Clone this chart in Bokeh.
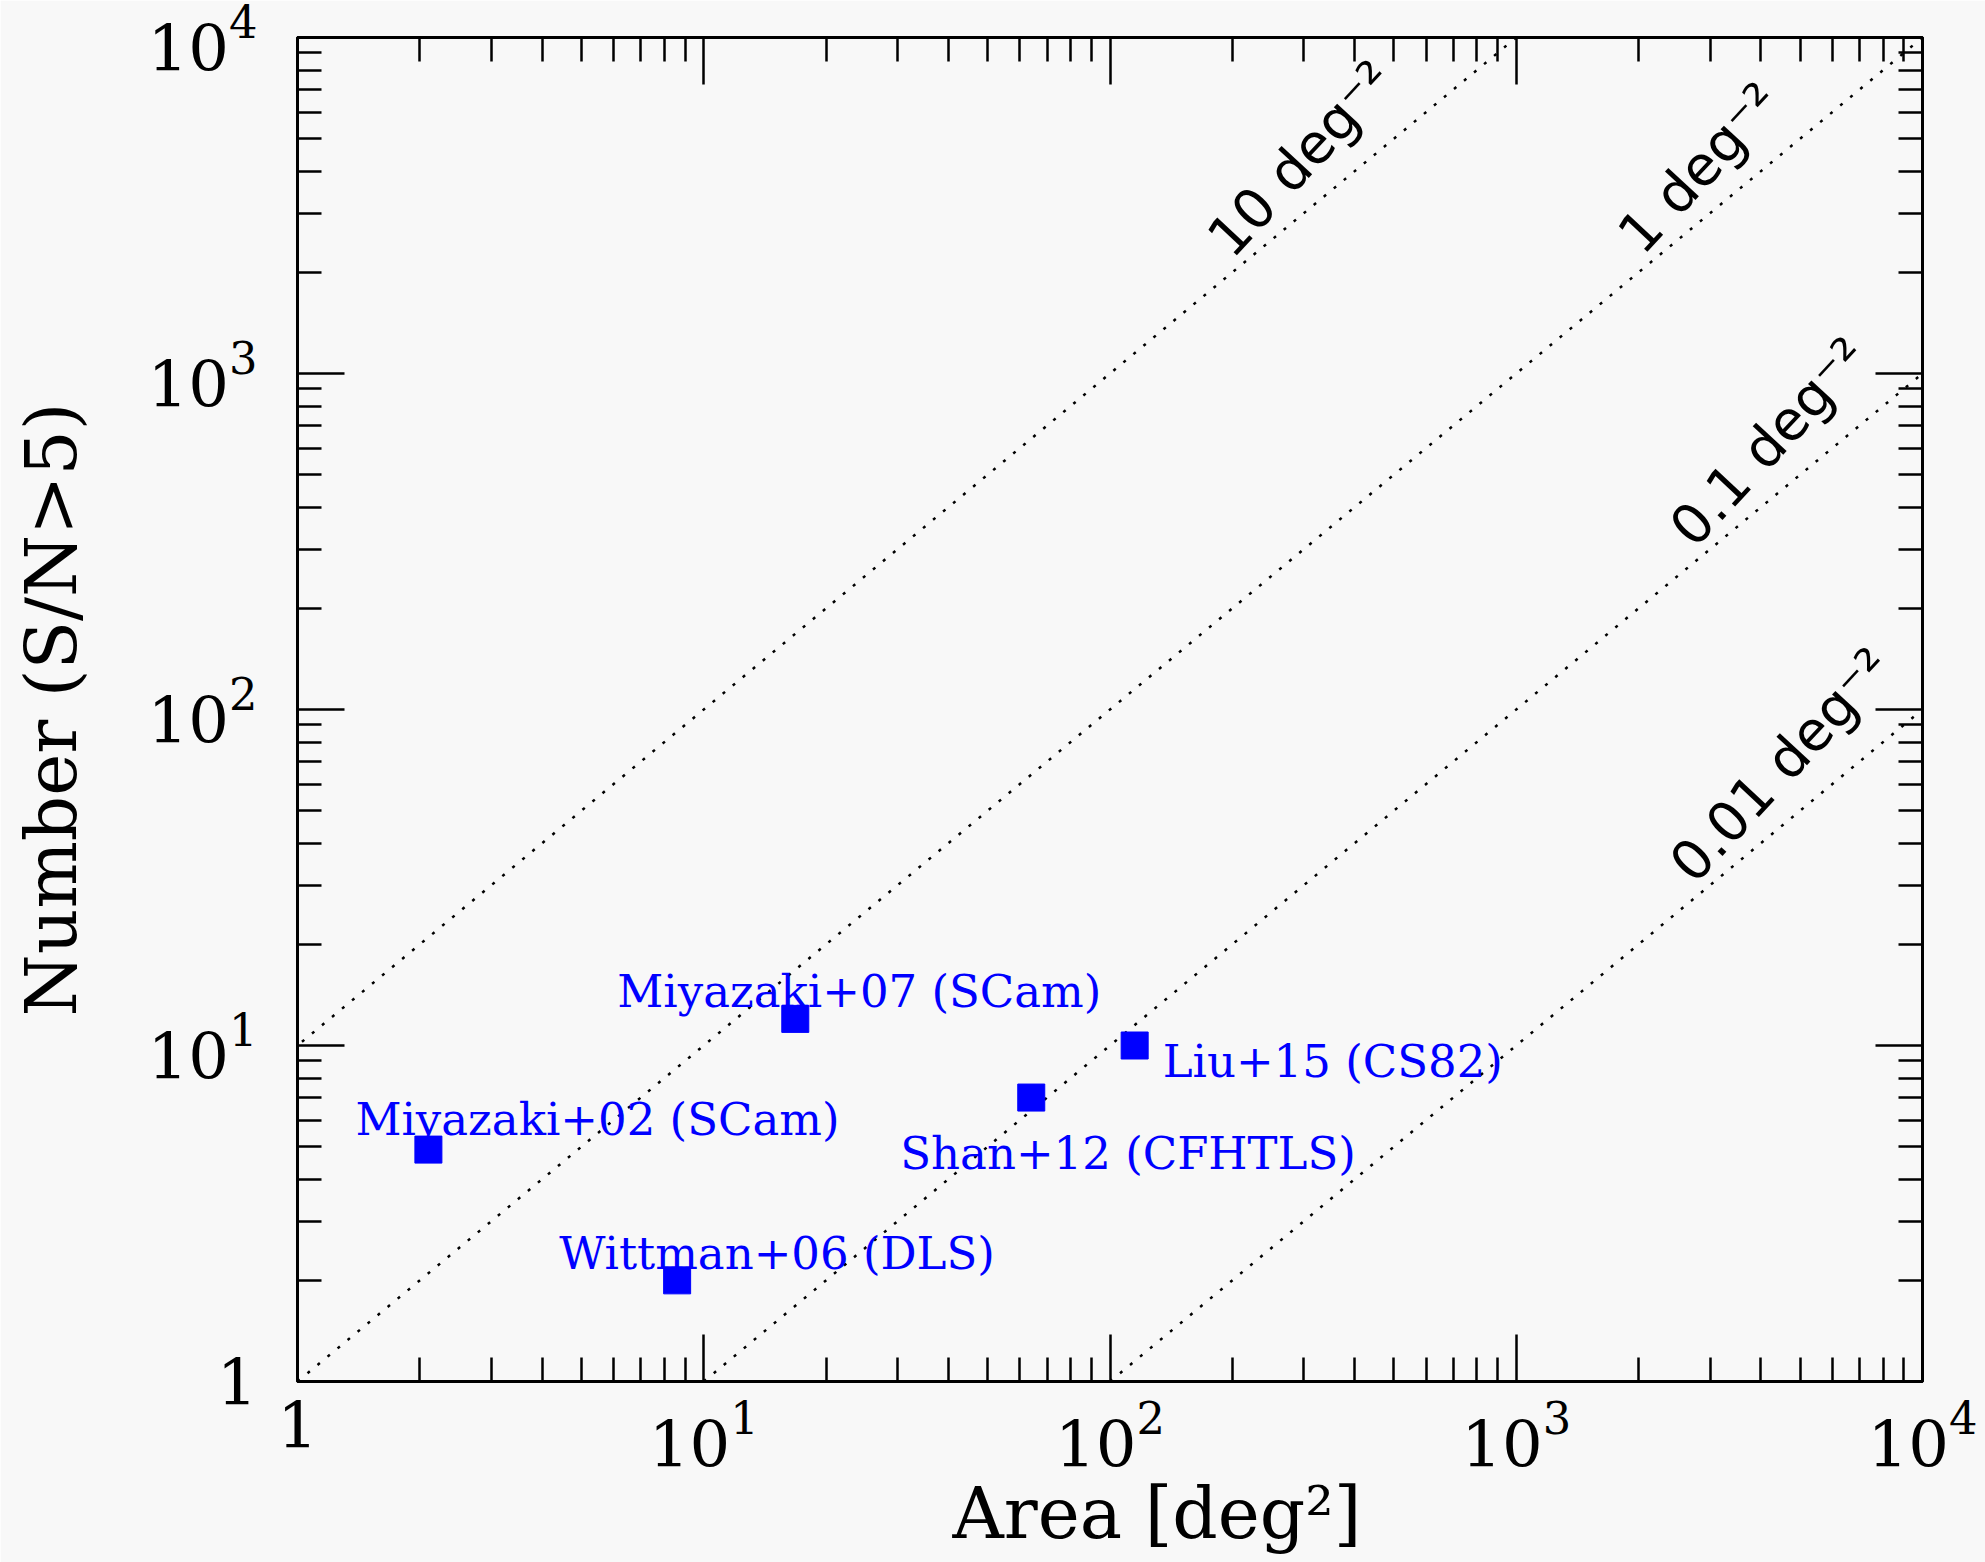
import math
from bokeh.plotting import figure
from bokeh.models import (LogAxis, FixedTicker, CustomJSTickFormatter, Title,
                          LogTickFormatter, ColumnDataSource)
from bokeh.embed import file_html
from bokeh.resources import INLINE
from bokeh.core.properties import value

# ---------------- data ----------------
surveys = ["Miyazaki+02 (SCam)", "Wittman+06 (DLS)", "Miyazaki+07 (SCam)",
           "Shan+12 (CFHTLS)", "Liu+15 (CS82)"]
areas = [2.1, 8.6, 16.8, 64.0, 115.0]          # deg^2
numbers = [4.9, 2.0, 12.0, 7.0, 10.0]          # N (S/N>5)

densities = [10, 1, 0.1, 0.01]                 # deg^-2
density_labels = ["10 deg⁻²", "1 deg⁻²", "0.1 deg⁻²", "0.01 deg⁻²"]
density_label_area = [200, 2050, 2750, 2750]   # where each line label sits

major_ticks = [1, 10, 100, 1000, 10000]

# ---------------- layout constants ----------------
W, H = 1985, 1562
ML, MR, MT, MB = 297, 63, 37, 181
TEXT_ANGLE = math.radians(47)

# pixel offsets of survey labels relative to their markers
label_dx = [-73, -118, -178, -131, 28]
label_dy = [-30, -27, -27, 56, 16]

SERIF = "DejaVu Serif"
SANS = "DejaVu Sans"
BG = "#f8f8f8"

p = figure(width=W, height=H, x_axis_type="log", y_axis_type="log",
           x_range=(1, 1e4), y_range=(1, 1e4),
           output_backend="svg", toolbar_location=None,
           min_border_left=ML, min_border_right=MR,
           min_border_top=MT, min_border_bottom=MB)
p.background_fill_color = BG
p.border_fill_color = BG
p.outline_line_color = "black"
p.outline_line_width = 3
p.xgrid.visible = False
p.ygrid.visible = False

minor = [m * t for t in major_ticks[:-1] for m in range(2, 10)]

blank = CustomJSTickFormatter(code="return '';")


def style_axis(ax, labels, standoff):
    ax.ticker = FixedTicker(ticks=major_ticks, minor_ticks=minor)
    ax.axis_line_color = "black"
    ax.axis_line_width = 3
    ax.major_tick_in = 47
    ax.major_tick_out = 0
    ax.minor_tick_in = 24
    ax.minor_tick_out = 0
    ax.major_tick_line_color = "black"
    ax.minor_tick_line_color = "black"
    ax.major_tick_line_width = 2.5
    ax.minor_tick_line_width = 2.5
    if labels:
        ax.formatter = LogTickFormatter(min_exponent=1)
        ax.major_label_text_font = SERIF
        ax.major_label_text_font_size = "64px"
        ax.major_label_text_color = "black"
        ax.major_label_standoff = standoff
    else:
        ax.formatter = blank
        ax.major_label_text_font_size = "1px"
        ax.major_label_standoff = 0


style_axis(p.xaxis[0], True, 19)
style_axis(p.yaxis[0], True, 40)
top = LogAxis()
right = LogAxis()
style_axis(top, False, 0)
style_axis(right, False, 0)
p.add_layout(top, "above")
p.add_layout(right, "right")

# y axis title
p.yaxis[0].axis_label = "Number (S/N>5)"
p.yaxis[0].axis_label_text_font = SERIF
p.yaxis[0].axis_label_text_font_size = "71px"
p.yaxis[0].axis_label_text_font_style = "normal"
p.yaxis[0].axis_label_text_color = "black"
p.yaxis[0].axis_label_standoff = 52

# x axis title (offset to the right like the original)
p.add_layout(Title(text="Area [deg²]", align="left", offset=655,
                   text_font=SERIF, text_font_size="71px",
                   text_font_style="normal", text_color="black",
                   standoff=0), "below")

# density lines N = density * area
for d in densities:
    xs = [1.0 / d, 1e4 / d]
    ys = [d * x for x in xs]
    p.line(xs, ys, line_color="black", line_width=2.5, line_dash="3 10")

dl_src = ColumnDataSource(dict(
    x=density_label_area,
    y=[d * a for d, a in zip(densities, density_label_area)],
    text=density_labels,
))
p.text(x="x", y="y", text="text", source=dl_src, angle=TEXT_ANGLE,
       x_offset=-14, y_offset=-25,
       text_font=value(SANS), text_font_size="55px", text_color="black",
       text_align="left", text_baseline="alphabetic")

# survey points
src = ColumnDataSource(dict(x=areas, y=numbers, text=surveys,
                            dx=label_dx, dy=label_dy))
p.scatter(x="x", y="y", source=src, marker="square", size=27,
          fill_color="blue", line_color="blue")
p.text(x="x", y="y", text="text", source=src, x_offset="dx", y_offset="dy",
       text_font=value(SERIF), text_font_size="45px", text_color="blue",
       text_align="left", text_baseline="alphabetic")

open("out.html", "w").write(file_html(p, INLINE))
